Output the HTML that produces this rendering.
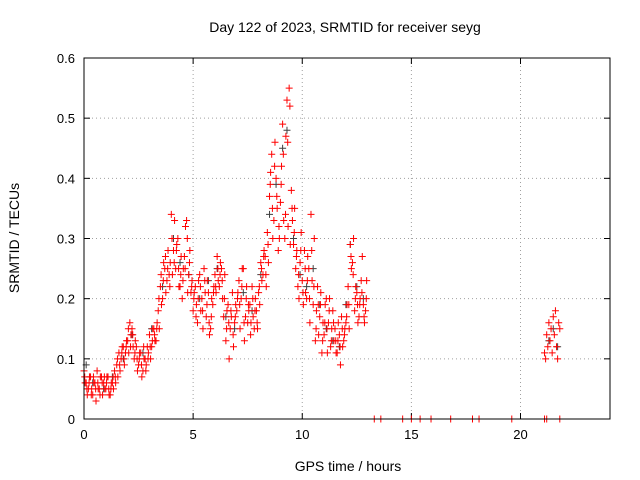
<!DOCTYPE html>
<html><head><meta charset="utf-8"><style>
html,body{margin:0;padding:0;background:#fff;}
svg{display:block;font-family:"Liberation Sans",sans-serif;}
</style></head><body>
<svg id="chart" width="640" height="480">
<text x="345" y="32" font-size="14" text-anchor="middle">Day 122 of 2023, SRMTID for receiver seyg</text>
<text x="348" y="471" font-size="14" text-anchor="middle">GPS time / hours</text>
<text transform="translate(19,238) rotate(-90)" font-size="14" text-anchor="middle">SRMTID / TECUs</text>
<g id="grid"></g><g id="ticks"></g><g id="marks"></g>
<rect x="84" y="58" width="526" height="361" fill="none" stroke="#000" stroke-width="1"/>
</svg>
<script>
const xTicks=[0,5,10,15,20];
const yTicks=[0,0.1,0.2,0.3,0.4,0.5,0.6];
const yTickLabels=["0","0.1","0.2","0.3","0.4","0.5","0.6"];
const redStart=0, redStep=0.1;
const redA=[0.08,0.06,0.05,0.07,0.04,0.06,0.08,0.05,0.07,0.06,
0.05,0.07,0.04,0.06,0.08,0.09,0.11,0.10,0.12,0.11,
0.13,0.16,0.15,0.10,0.12,0.09,0.11,0.08,0.10,0.12,
0.14,0.12,0.15,0.13,0.18,0.22,0.20,0.25,0.23,0.24,
0.34,0.28,0.25,0.30,0.22,0.20,0.27,0.33,0.24,0.21,
0.18,0.22,0.16,0.24,0.20,0.25,0.17,0.21,0.15,0.19,
0.24,0.27,0.22,0.25,0.17,0.13,0.19,0.15,0.21,0.16,
0.18,0.23,0.20,0.25,0.17,0.16,0.19,0.22,0.15,0.18,
0.21,0.26,0.24,0.27,0.31,0.37,0.44,0.33,0.40,0.28,
0.36,0.49,0.30,0.53,0.55,0.38,0.29,0.25,0.22,0.26,
0.23,0.28,0.20,0.25,0.34,0.19,0.13,0.22,0.17,0.11,
0.14,0.20,0.16,0.12,0.18,0.15,0.11,0.14,0.17,0.13,
0.16,0.22,0.29,0.26,0.18,0.21,0.17,0.23,0.19,0.18];
const redB=[0.06,0.04,0.07,0.05,0.06,0.03,0.05,0.07,0.04,0.05,
0.07,0.04,0.06,0.05,0.06,0.07,0.08,0.12,0.09,0.13,
0.11,0.14,0.12,0.13,0.08,0.11,0.07,0.10,0.09,0.11,
0.10,0.15,0.13,0.16,0.15,0.19,0.26,0.21,0.28,0.26,
0.24,0.33,0.29,0.22,0.27,0.25,0.32,0.21,0.28,0.23,
0.21,0.19,0.23,0.18,0.15,0.21,0.23,0.14,0.20,0.22,
0.21,0.23,0.26,0.20,0.24,0.18,0.10,0.17,0.12,0.19,
0.21,0.15,0.25,0.13,0.22,0.18,0.16,0.17,0.20,0.15,
0.19,0.23,0.28,0.22,0.26,0.41,0.30,0.46,0.35,0.30,
0.42,0.33,0.47,0.32,0.29,0.33,0.35,0.28,0.20,0.31,
0.19,0.21,0.27,0.16,0.23,0.30,0.18,0.14,0.21,0.16,
0.19,0.11,0.20,0.15,0.13,0.11,0.16,0.09,0.12,0.15,
0.19,0.15,0.25,0.30,0.22,0.16,0.20,0.27,0.16,0.23];
const redC=[0.07,0.05,0.06,0.04,0.07,0.05,0.06,0.04,0.06,0.07,
0.06,0.05,0.05,0.07,0.07,0.10,0.09,0.11,0.10,0.12,
0.15,0.12,0.14,0.11,0.10,0.10,0.09,0.12,0.08,0.10,
0.12,0.13,0.14,0.15,0.20,0.24,0.23,0.27,0.25,0.22,
0.30,0.26,0.28,0.25,0.24,0.23,0.25,0.30,0.26,0.22,
0.20,0.17,0.20,0.22,0.18,0.23,0.19,0.16,0.17,0.21,
0.22,0.25,0.24,0.23,0.20,0.15,0.16,0.18,0.14,0.17,
0.20,0.19,0.22,0.16,0.20,0.19,0.14,0.20,0.18,0.16,
0.22,0.25,0.27,0.24,0.29,0.39,0.35,0.42,0.37,0.32,
0.39,0.44,0.34,0.46,0.52,0.35,0.31,0.27,0.24,0.28,
0.21,0.25,0.23,0.20,0.28,0.22,0.15,0.19,0.19,0.13,
0.16,0.15,0.18,0.13,0.16,0.13,0.13,0.12,0.15,0.14,
0.17,0.19,0.27,0.24,0.20,0.19,0.19,0.21,0.17,0.20];
const lateT=[21.1,21.15,21.2,21.25,21.3,21.35,21.4,21.45,21.5,21.55,21.6,21.65,21.7,21.75,21.8];
const lateV=[0.11,0.10,0.14,0.12,0.16,0.13,0.15,0.11,0.17,0.14,0.18,0.12,0.10,0.16,0.15];
const zeroT=[13.3,13.6,14.6,15.0,15.4,15.9,16.8,17.8,18.1,19.6,21.1,21.2,21.8];
const blackT=[0.1,0.4,0.9,1.3,1.8,2.2,2.7,3.1,3.6,4.1,4.4,4.8,5.3,5.7,6.1,6.5,6.9,7.3,7.7,8.1,8.5,8.8,9.1,9.3,9.6,9.9,10.2,10.5,10.8,11.1,11.4,11.7,12.0,12.2,12.5,12.8,21.3,21.5,21.7];
const blackV=[0.09,0.06,0.05,0.07,0.10,0.14,0.11,0.15,0.22,0.30,0.26,0.24,0.20,0.23,0.25,0.17,0.15,0.21,0.18,0.24,0.34,0.39,0.45,0.48,0.30,0.24,0.22,0.25,0.19,0.15,0.13,0.12,0.19,0.29,0.22,0.20,0.13,0.15,0.12];

const X0=84,X1=610,Y0=419,Y1=58,XMAX=24.1,YMAX=0.6;
const xs=v=>X0+(X1-X0)*v/XMAX;
const ys=v=>Y0-(Y0-Y1)*v/YMAX;
const NS="http://www.w3.org/2000/svg";
function mk(tag,attrs,parent){const e=document.createElementNS(NS,tag);for(const k in attrs)e.setAttribute(k,attrs[k]);parent.appendChild(e);return e;}
const grid=document.getElementById('grid'),ticks=document.getElementById('ticks'),marks=document.getElementById('marks');
xTicks.forEach(t=>{const x=xs(t);
 if(t>0){const g=mk('line',{x1:x,x2:x,y1:Y0,y2:Y1,stroke:'#a0a0a0','stroke-dasharray':'1,3'},grid);
 
 }
 mk('line',{x1:x,x2:x,y1:Y0,y2:Y0-6,stroke:'#000'},ticks);
 mk('line',{x1:x,x2:x,y1:Y1,y2:Y1+6,stroke:'#000'},ticks);
 const l=mk('text',{x:x,y:Y0+20,'font-size':13,'text-anchor':'middle'},ticks);l.textContent=String(t);
 
 
});
yTicks.forEach((t,i)=>{const y=ys(t);
 if(t>0&&t<YMAX){const g=mk('line',{x1:X0,x2:X1,y1:y,y2:y,stroke:'#a0a0a0','stroke-dasharray':'1,3'},grid);
 
 }
 mk('line',{x1:X0,x2:X0+6,y1:y,y2:y,stroke:'#000'},ticks);
 mk('line',{x1:X1,x2:X1-6,y1:y,y2:y,stroke:'#000'},ticks);
 const l=mk('text',{x:X0-9,y:y+5,'font-size':13,'text-anchor':'end'},ticks);l.textContent=yTickLabels[i];
 
 
});
function plus(t,v,col,name){const x=xs(t),y=ys(v);
 const p=mk('path',{d:`M${x-3.5},${y}h7M${x},${y-3.5}v7`,stroke:col,'stroke-width':1,fill:'none'},marks);
 
 }
blackT.forEach((t,i)=>plus(t,blackV[i],'#404040','black-point'));
redA.forEach((v,i)=>plus(redStart+i*redStep,v,'#ff0000','red-point'));
redB.forEach((v,i)=>plus(redStart+i*redStep+0.05,v,'#ff0000','red-point'));
redC.forEach((v,i)=>plus(redStart+i*redStep+0.033,v,'#ff0000','red-point'));
lateT.forEach((t,i)=>plus(t,lateV[i],'#ff0000','red-point'));
zeroT.forEach(t=>plus(t,0,'#ff0000','red-zero-point'));
</script>
</body></html>
